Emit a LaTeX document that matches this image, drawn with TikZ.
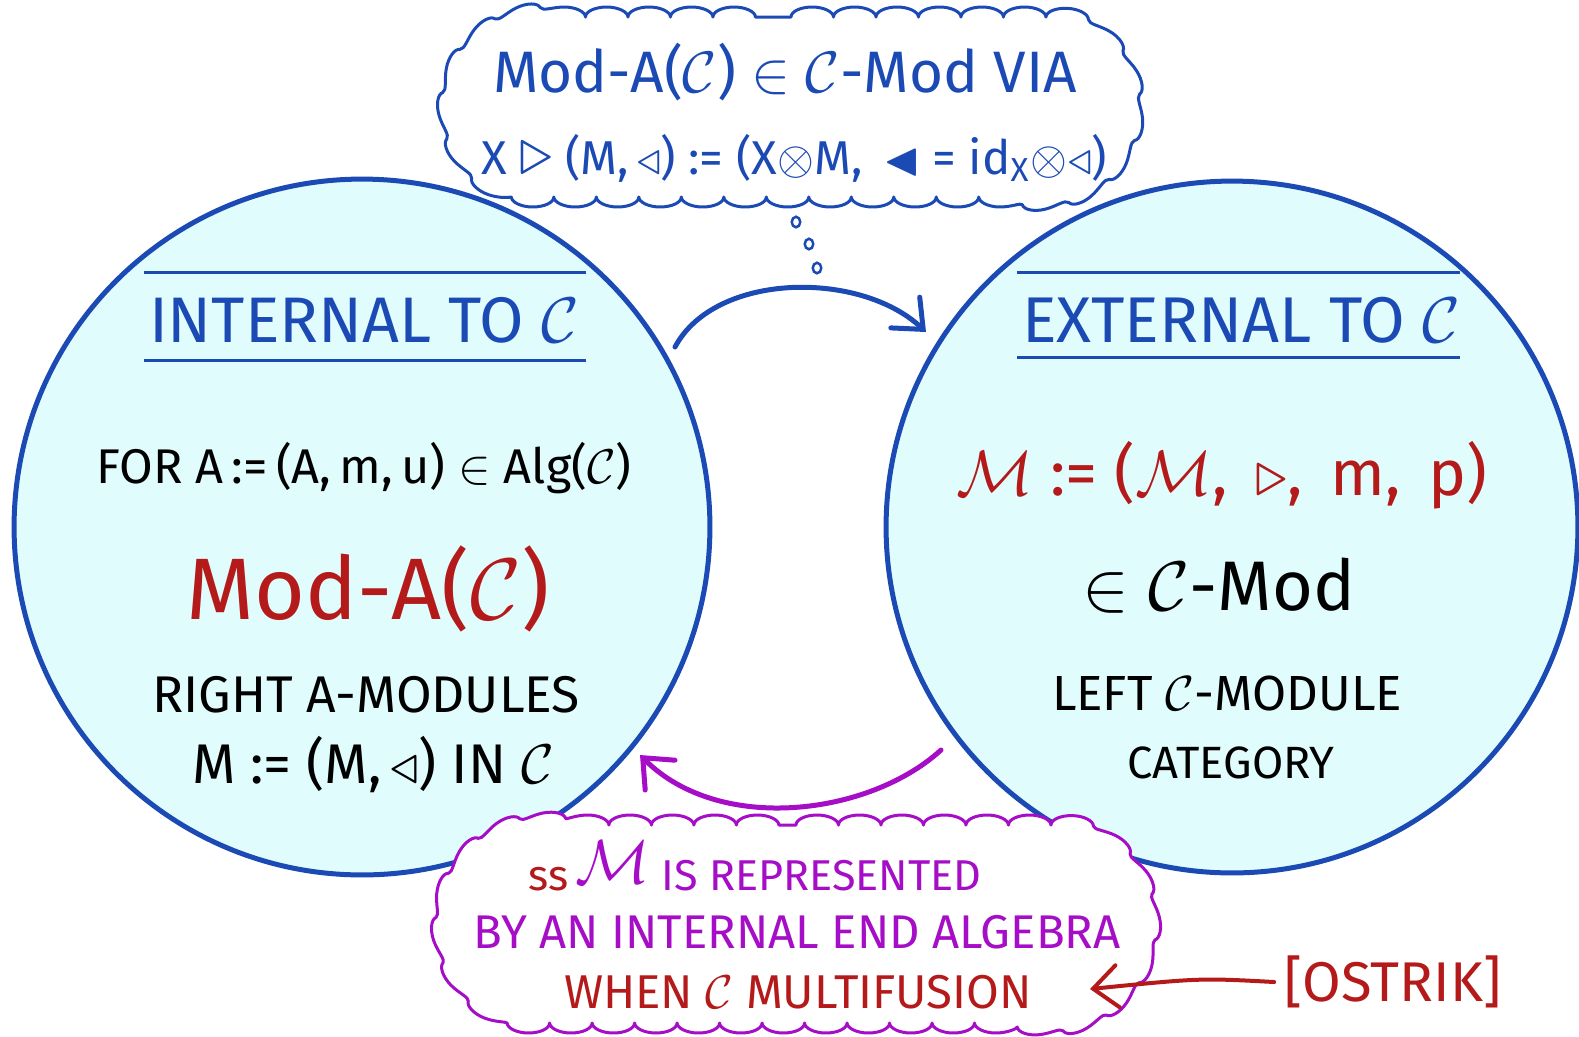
\documentclass[tikz,border=0pt]{standalone}
\usepackage{fontspec}
\setmainfont{Fira Sans}
\usepackage{amssymb}
\usetikzlibrary{shapes.geometric,shapes.misc,arrows.meta,decorations.pathmorphing}
\definecolor{cfill}{HTML}{E0FCFD}
\definecolor{cblue}{HTML}{1B4AB5}
\definecolor{cred}{HTML}{B51A1A}
\definecolor{cpurp}{HTML}{A50DC6}
\newcommand\fw[2]{\resizebox{#1}{!}{#2}}
\newcommand\cC{$\mathcal{C}$}
\begin{document}
\begin{tikzpicture}[x=0.02cm,y=-0.02cm,
  circ/.style={circle,draw=cblue,fill=cfill,line width=0.1cm,inner sep=0pt},
  rule/.style={cblue,line width=0.06cm},
  txt/.style={inner sep=0pt,anchor=center},
  bubble/.style={rounded rectangle,fill=white,line width=0.06cm,inner sep=0pt,line join=round,
     decorate,decoration={bumps,segment length=1.7cm,amplitude=0.2cm}},
  dot/.style={ellipse,draw=cblue,line width=0.05cm,minimum width=0.17cm,minimum height=0.21cm,inner sep=0pt},
  arr/.style={line width=0.1cm,line cap=round,-{Straight Barb[length=14pt,width=24pt,line cap=round]}},
]
\useasboundingbox (0,0) rectangle (1579,1036);
% circles
\node[circ,minimum size=13.92cm] (L) at (362,527) {};
\node[circ,minimum size=13.84cm] (R) at (1232,527) {};
% rules
\draw[rule] (144,272) -- (586,272);
\draw[rule] (144,360) -- (586,360);
\draw[rule] (1017,272) -- (1460,272);
\draw[rule] (1017,357) -- (1460,357);
% left texts
\node[txt,text=cblue] (t1) at (364,320) {\fw{8.6cm}{INTERNAL TO \cC}};
\node[txt] (t2) at (364,468) {\fw{10.7cm}{FOR A\,:=\,(A,\,m,\,u) $\in$ Alg(\cC)}};
\node[txt,text=cred] (t3) at (368,589) {\fw{7.26cm}{Mod-A(\cC)}};
\node[txt] (t4) at (366,695) {\fw{8.56cm}{RIGHT A-MODULES}};
\node[txt] (t5) at (373,765) {\fw{7.24cm}{M := (M,$\,\triangleleft$) IN \cC}};
% right texts
\node[txt,text=cblue] (t6) at (1241,320) {\fw{8.76cm}{EXTERNAL TO \cC}};
\node[txt,text=cred] (t7) at (1222,475) {\fw{10.62cm}{$\mathcal{M}$ := ($\mathcal{M}$,\, $\triangleright$,\, m,\, p)}};
\node[txt] (t8) at (1219,586) {\fw{5.44cm}{$\in$ \cC-Mod}};
\node[txt] (t9) at (1227,693) {\fw{7.0cm}{LEFT \cC-MODULE}};
\node[txt] (t10) at (1231,763) {\fw{4.14cm}{CATEGORY}};
% top cloud
\node[bubble,draw=cblue,minimum width=13.6cm,minimum height=3.6cm] (tc) at (791,107) {};
\node[txt,text=cblue] (t11) at (785,72) {\fw{11.68cm}{Mod-A(\cC) $\in$ \cC-Mod VIA}};
\node[txt,text=cblue] (t12) at (794,158) {\fw{12.52cm}{X {\Large$\triangleright$} (M,$\,\triangleleft$) := (X$\otimes$M,\, $\blacktriangleleft$ = id\textsubscript{X}$\otimes\triangleleft$)}};
\node[dot] (d1) at (796,222) {};
\node[dot] (d2) at (809,244) {};
\node[dot] (d3) at (817,268) {};
% bottom cloud
\node[bubble,draw=cpurp,minimum width=14.06cm,minimum height=3.96cm] (bc) at (796,924) {};
\node[txt,text=cpurp] (b1) at (755,866) {\fw{9.06cm}{{\color{cred}ss}\,\raisebox{0.3ex}{\Large$\mathcal{M}$} IS REPRESENTED}};
\node[txt,text=cpurp] (b2) at (797,932) {\fw{12.94cm}{BY AN INTERNAL END ALGEBRA}};
\node[txt,text=cred] (b3) at (798,992) {\fw{9.36cm}{WHEN \cC\ MULTIFUSION}};
\node[txt,text=cred] (os) at (1393,982) {\fw{4.34cm}{[OSTRIK]}};
% arrows
\coordinate (ta) at (675,347);
\coordinate (tb) at (926,332);
\draw[arr,cblue] (ta) .. controls (715,272) and (860,270) .. (tb);
\coordinate (pa) at (941,750);
\coordinate (pb) at (640,755);
\draw[arr,cpurp] (pa) .. controls (870,815) and (720,835) .. (pb);
\coordinate (rb) at (1090,989);
\draw[arr,cred,line width=0.08cm] ([xshift=-0.2cm]os.west) .. controls (1200,978) .. (rb);
\end{tikzpicture}
\end{document}
